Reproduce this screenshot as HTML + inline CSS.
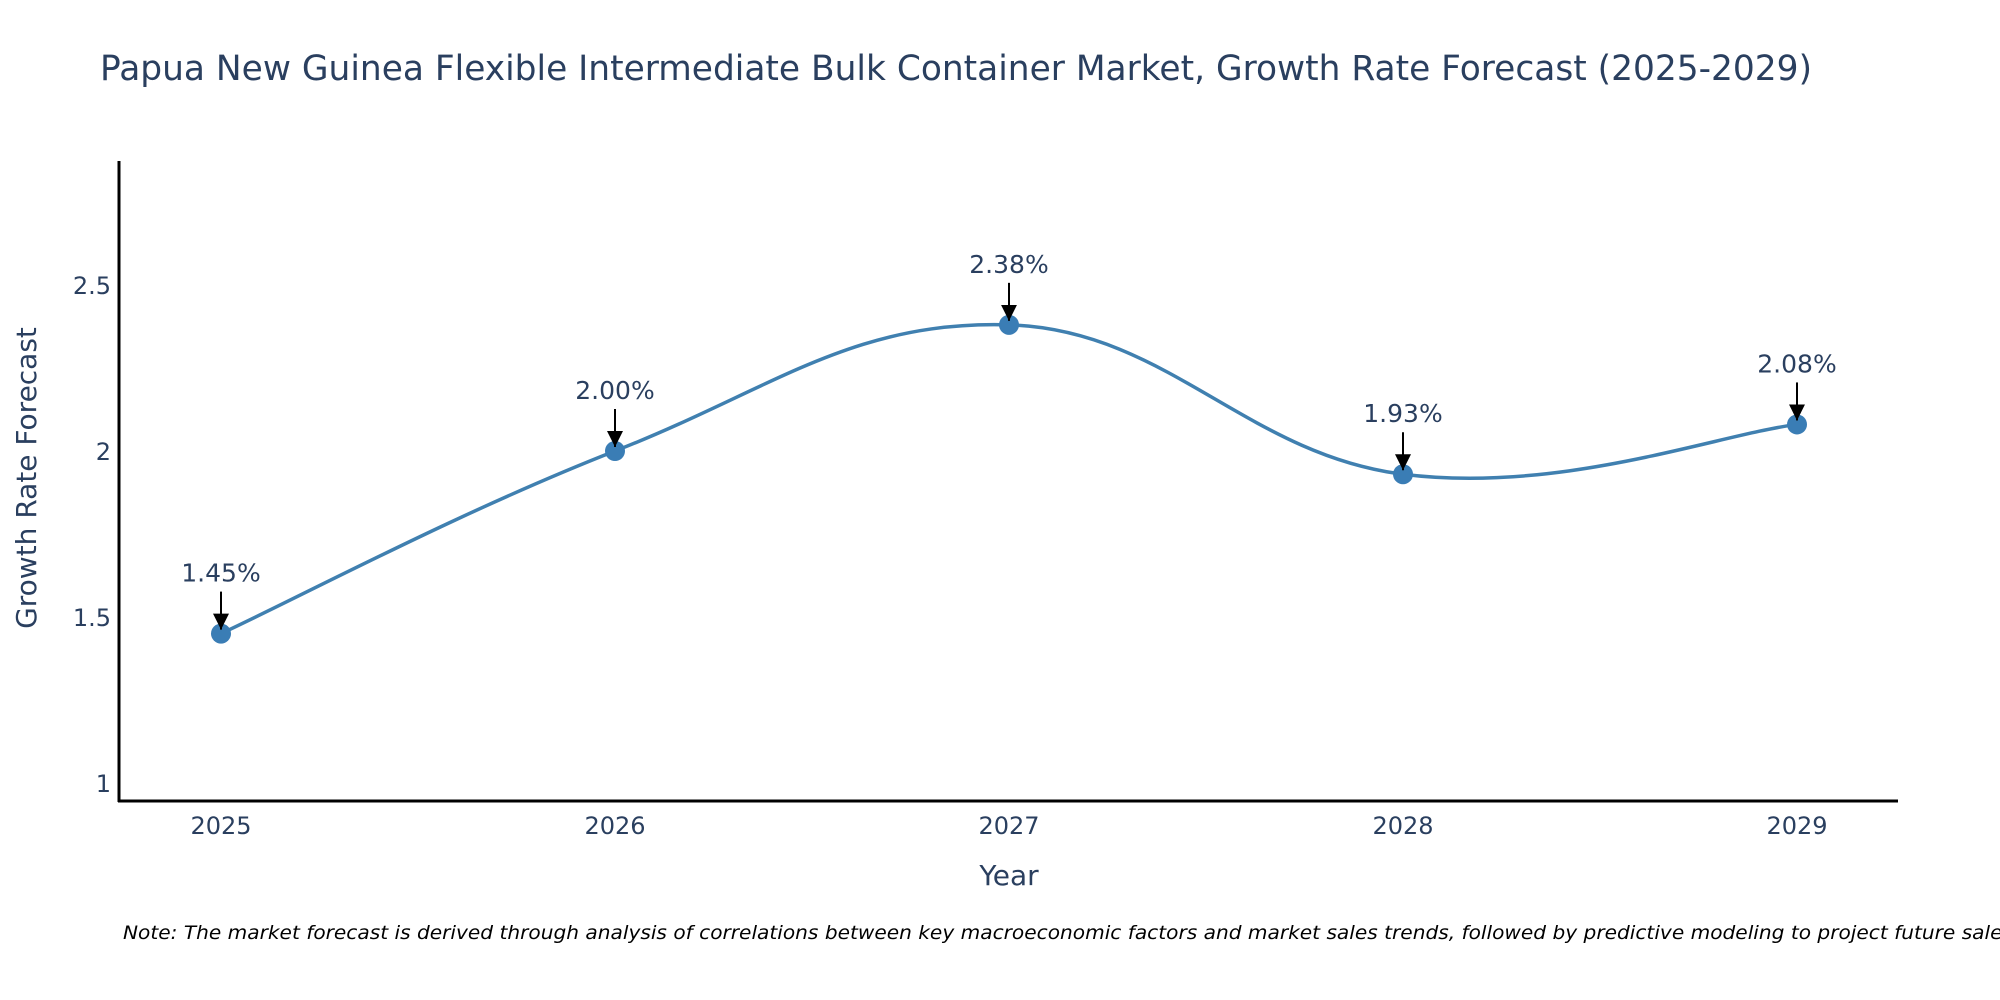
<!DOCTYPE html>
<html><head><meta charset="utf-8"><title>Growth Rate Forecast</title>
<style>html,body{margin:0;padding:0;background:#fff;}svg{display:block;font-family:"DejaVu Sans","Liberation Sans",sans-serif;}</style>
</head><body>
<svg id="chart" width="2000" height="1000" viewBox="0 0 2000 1000" xmlns="http://www.w3.org/2000/svg">
<defs><marker id="ah" viewBox="0 0 10 10" refX="10" refY="5" markerWidth="16" markerHeight="16" markerUnits="userSpaceOnUse" orient="auto"><path d="M0,0 L10,5 L0,10 z" fill="#000"/></marker></defs>
<text x="100" y="80" font-size="35" fill="#2a3f5f" textLength="1712" lengthAdjust="spacingAndGlyphs">Papua New Guinea Flexible Intermediate Bulk Container Market, Growth Rate Forecast (2025-2029)</text>
<g id="yticks"></g><g id="xticks"></g>
<line x1="119" y1="161" x2="119" y2="802" stroke="#000" stroke-width="3"/>
<line x1="118" y1="801" x2="1898" y2="801" stroke="#000" stroke-width="3"/>
<path id="line" fill="none" stroke="#4080b0" stroke-width="3.5"/>
<g id="marks"></g>
<text x="1009" y="885" font-size="28" fill="#2a3f5f" text-anchor="middle">Year</text>
<text transform="translate(36,478) rotate(-90)" font-size="28" fill="#2a3f5f" text-anchor="middle">Growth Rate Forecast</text>
<text x="123" y="939" font-size="19" font-style="italic" fill="#000" textLength="1890" lengthAdjust="spacingAndGlyphs">Note: The market forecast is derived through analysis of correlations between key macroeconomic factors and market sales trends, followed by predictive modeling to project future sales</text>
</svg>
<script>
const years = [2025, 2026, 2027, 2028, 2029];
const growth = [1.45, 2.00, 2.38, 1.93, 2.08];
const labels = ["1.45%", "2.00%", "2.38%", "1.93%", "2.08%"];
const yTicks = [1, 1.5, 2, 2.5];
const yTickLabels = ["1", "1.5", "2", "2.5"];

const NS = "http://www.w3.org/2000/svg";
function xs(v){ return 221 + (v - 2025) * 394; }
function ys(v){ return 783 - (v - 1) * 332; }
function mk(tag, attrs, parent, txt){
  const e = document.createElementNS(NS, tag);
  for (const k in attrs) e.setAttribute(k, attrs[k]);
  if (txt !== undefined) e.textContent = txt;
  parent.appendChild(e); return e;
}
const yg = document.getElementById('yticks');
yTicks.forEach((t, i) => {
  const el = mk('text', {x: 111, y: ys(t) + 9, 'font-size': 24, fill: '#2a3f5f', 'text-anchor': 'end'}, yg, yTickLabels[i]);
  
  
});
const xg = document.getElementById('xticks');
years.forEach(y => {
  const el = mk('text', {x: xs(y), y: 834, 'font-size': 24, fill: '#2a3f5f', 'text-anchor': 'middle'}, xg, String(y));
  
  
});
const pts = years.map((y, i) => [xs(y), ys(growth[i])]);
let d = 'M' + pts[0][0] + ',' + pts[0][1];
const s = 0.2;
for (let i = 0; i < pts.length - 1; i++) {
  const p0 = pts[i - 1] || pts[i], p1 = pts[i], p2 = pts[i + 1], p3 = pts[i + 2] || p2;
  const c1 = [p1[0] + (p2[0] - p0[0]) * s, p1[1] + (p2[1] - p0[1]) * s];
  const c2 = [p2[0] - (p3[0] - p1[0]) * s, p2[1] - (p3[1] - p1[1]) * s];
  d += ' C' + c1 + ' ' + c2 + ' ' + p2;
}
document.getElementById('line').setAttribute('d', d);
const mg = document.getElementById('marks');
pts.forEach((p, i) => {
  const c = mk('circle', {cx: p[0], cy: p[1], r: 10, fill: '#3a7db5'}, mg);
  
  
  const a = mk('line', {x1: p[0], y1: p[1] - 42, x2: p[0], y2: p[1] - 4, stroke: '#000', 'stroke-width': 2, 'marker-end': 'url(#ah)'}, mg);
  
  
  const t = mk('text', {x: p[0], y: p[1] - 52, 'font-size': 25, fill: '#2a3f5f', 'text-anchor': 'middle'}, mg, labels[i]);
  
  
});
</script>
</body></html>
